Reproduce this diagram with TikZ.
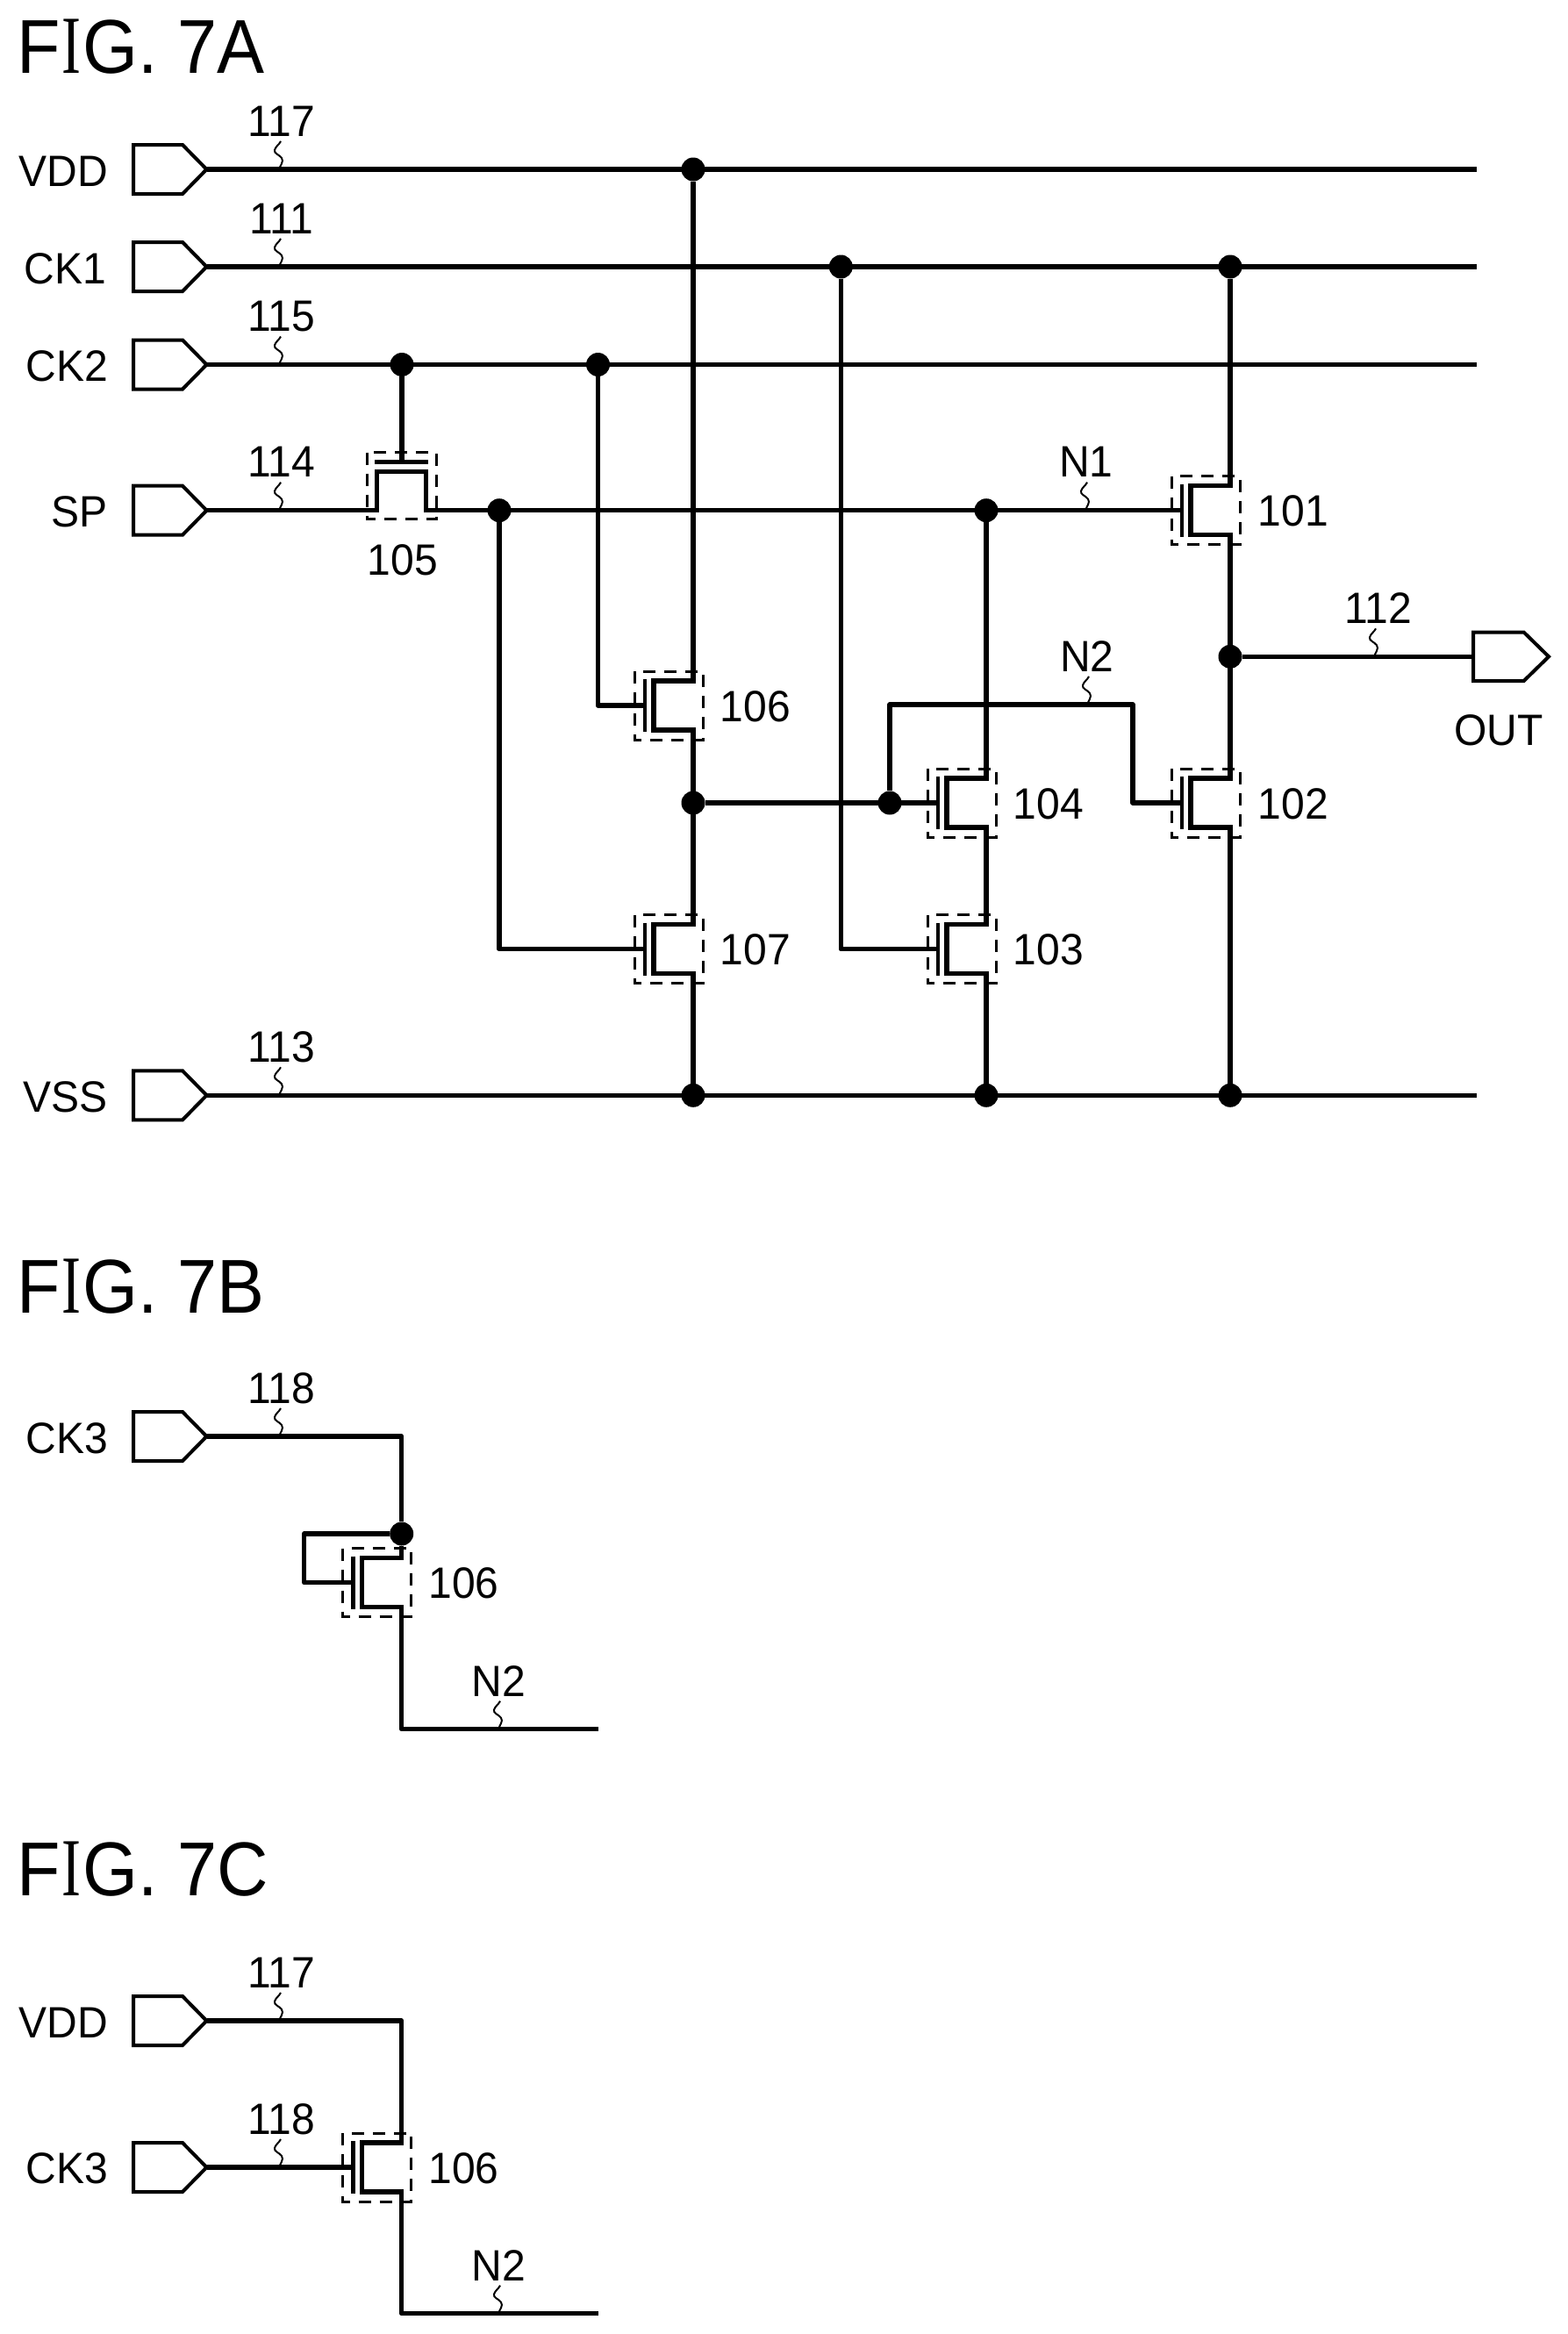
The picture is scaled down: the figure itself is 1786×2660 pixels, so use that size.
\documentclass[tikz,border=0pt]{standalone}
\usepackage{fontspec}
\setmainfont{Liberation Sans}
\newfontfamily\lblf[FakeStretch=0.96]{Liberation Sans}
\newfontfamily\figf[FakeStretch=0.93]{Liberation Sans}
\newfontfamily\figserif[FakeStretch=0.7]{Liberation Serif}
\newcommand{\figI}{\kern2pt{\fontsize{94}{90}\figserif I}\kern2pt}
\tikzset{
  x=1pt,y=-1pt,
  wire/.style={line width=5.5pt,line join=round},
  dot/.style={circle,fill=black,draw=none,minimum size=27pt,inner sep=0pt},
  lbl/.style={inner sep=0pt,font=\lblf\fontsize{50}{54}\selectfont},
  pinlbl/.style={inner sep=0pt,anchor=east,font=\lblf\fontsize{50}{54}\selectfont},
  figlbl/.style={inner sep=0pt,anchor=west,font=\figf\fontsize{87}{90}\selectfont},
  boxdash/.style={line width=3pt,dash pattern=on 14pt off 10pt},
  inpin/.pic={
    \draw[line width=4pt,line join=miter] (0,-28) -- (56,-28) -- (83.5,0) -- (56,28) -- (0,28) -- cycle;
    \coordinate (-tip) at (83.5,0);
  },
  outpin/.pic={
    \draw[line width=4pt,line join=miter] (0,-27.7) -- (57.7,-27.7) -- (86,0) -- (57.7,27.7) -- (0,27.7) -- cycle;
    \coordinate (-in) at (0,0);
  },
  squig/.pic={
    \draw[line width=2pt] (0,0) .. controls (1,-4) and (6,-9) .. (3,-13) .. controls (0,-17) and (-6,-18) .. (-5,-22) .. controls (-4,-26) and (0,-28) .. (2,-32);
  },
  nmos/.pic={
    \draw[boxdash] (-67,-39) rectangle (11,39);
    \draw[line width=4.5pt] (-55,-30) -- (-55,30);
    \draw[wire,line join=miter] (2.75,-28) -- (-45,-28) -- (-45,28) -- (2.75,28);
    \coordinate (-g) at (-55,0);
    \coordinate (-d) at (0,-28);
    \coordinate (-s) at (0,28);
  },
  topgate/.pic={
    \draw[boxdash] (-40,-66) rectangle (39,10);
    \draw[line width=5pt] (-31,-55.7) -- (30,-55.7);
    \draw[wire,line join=miter] (-44,0) -- (-28.7,0) -- (-28.7,-44) -- (27.7,-44) -- (27.7,0) -- (44,0);
    \coordinate (-g) at (0,-55.7);
    \coordinate (-l) at (-28.7,0);
    \coordinate (-r) at (27.7,0);
  },
}
\begin{document}
\begin{tikzpicture}
\useasboundingbox (0,0) rectangle (1786,2660);
% ---- FIG 7A
\node[figlbl] (figa) at (19,53) {F\figI G. 7A};
\pic (vdd) at (152,193) {inpin};
\pic (ckone) at (152,304) {inpin};
\pic (cktwo) at (152,415.5) {inpin};
\pic (sp) at (152,581.7) {inpin};
\pic (vss) at (152,1248.3) {inpin};
\pic (out) at (1679,748.3) {outpin};
\node[pinlbl] (lvdd) at (123,195) {VDD};
\node[pinlbl] (lckone) at (121,306) {CK1};
\node[pinlbl] (lcktwo) at (123,417.5) {CK2};
\node[pinlbl] (lsp) at (123,583.7) {SP};
\node[pinlbl] (lvss) at (123,1250.3) {VSS};
\node[lbl] (lout) at (1708,832.5) {OUT};
\coordinate (evdd) at (1683,193);
\coordinate (eckone) at (1683,304);
\coordinate (ecktwo) at (1683,415.5);
\coordinate (evss) at (1683,1248.3);
\pic (t101) at (1402,581.7) {nmos};
\pic (t102) at (1402,915) {nmos};
\pic (t103) at (1124,1081.7) {nmos};
\pic (t104) at (1124,915) {nmos};
\pic (t105) at (458,581.7) {topgate};
\pic (t106) at (790,804) {nmos};
\pic (t107) at (790,1081.7) {nmos};
\node[lbl] (l101) at (1474,582.7) {101};
\node[lbl] (l102) at (1474,916) {102};
\node[lbl] (l103) at (1195,1082.7) {103};
\node[lbl] (l104) at (1195,916) {104};
\node[lbl] (l105) at (458.7,638) {105};
\node[lbl] (l106) at (861,805) {106};
\node[lbl] (l107) at (861,1082.7) {107};
\node[dot] (dvdd) at (790,193) {};
\node[dot] (dckb) at (958.3,304) {};
\node[dot] (dcka) at (1402,304) {};
\node[dot] (dckc) at (458,415.5) {};
\node[dot] (dckd) at (681.5,415.5) {};
\node[dot] (dspa) at (569,581.7) {};
\node[dot] (dspb) at (1124,581.7) {};
\node[dot] (dout) at (1402,748.3) {};
\node[dot] (dmid) at (790,915) {};
\node[dot] (dnb) at (1014,915) {};
\node[dot] (dssa) at (790,1248.3) {};
\node[dot] (dssb) at (1124,1248.3) {};
\node[dot] (dssc) at (1402,1248.3) {};
\draw[wire] (vdd-tip) -- (evdd);
\draw[wire] (ckone-tip) -- (eckone);
\draw[wire] (cktwo-tip) -- (ecktwo);
\draw[wire] (vss-tip) -- (evss);
\draw[wire] (sp-tip) -- (t105-l);
\draw[wire] (dckc) -- (t105-g);
\draw[wire] (t105-r) -- (t101-g);
\draw[wire] (dspa) |- (t107-g);
\draw[wire] (dckd) |- (t106-g);
\draw[wire] (dvdd) -- (t106-d);
\draw[wire] (t106-s) -- (t107-d);
\draw[wire] (t107-s) -- (dssa);
\draw[wire] (dmid) -- (t104-g);
\draw[wire] (dnb) -- (1014,803) coordinate (nbtop) -- (1291,803) coordinate (nbright) -- (1291,915) coordinate (nbdown) -- (t102-g);
\draw[wire] (dspb) -- (t104-d);
\draw[wire] (t104-s) -- (t103-d);
\draw[wire] (t103-s) -- (dssb);
\draw[wire] (dckb) |- (t103-g);
\draw[wire] (dcka) -- (t101-d);
\draw[wire] (t101-s) -- (t102-d);
\draw[wire] (t102-s) -- (dssc);
\draw[wire] (dout) -- (out-in);
\pic at (318,193) {squig};
\pic at (318,304) {squig};
\pic at (318,415.5) {squig};
\pic at (318,581.7) {squig};
\pic at (318,1248.3) {squig};
\pic at (1237,581.7) {squig};
\pic at (1239,803) {squig};
\pic at (1566,748.3) {squig};
\node[lbl] (n117) at (321,138) {117};
\node[lbl] (n111) at (321,249) {111};
\node[lbl] (n115) at (321,360.5) {115};
\node[lbl] (n114) at (321,526.7) {114};
\node[lbl] (n113) at (321,1193.3) {113};
\node[lbl] (nNa) at (1238,526.7) {N1};
\node[lbl] (nNb) at (1239,748) {N2};
\node[lbl] (n112) at (1571,693.3) {112};
% ---- FIG 7B
\node[figlbl] (figb) at (19,1466) {F\figI G. 7B};
\pic (ckthree) at (152,1637) {inpin};
\node[pinlbl] (lckthree) at (123,1639) {CK3};
\pic (tb) at (457.7,1803.5) {nmos};
\node[lbl] (lb) at (528.5,1804.5) {106};
\node[dot] (db) at (457.7,1748) {};
\coordinate (bnend) at (682,1970.7);
\draw[wire] (ckthree-tip) -| (db);
\draw[wire] (db) -- (tb-d);
\draw[wire] (db) -- (346.7,1748) coordinate (bloop) |- (tb-g);
\draw[wire] (tb-s) |- (bnend);
\pic at (318,1637) {squig};
\pic at (568,1970.7) {squig};
\node[lbl] (n118b) at (321,1582) {118};
\node[lbl] (nNbb) at (568.5,1915.7) {N2};
% ---- FIG 7C
\node[figlbl] (figc) at (19,2130) {F\figI G. 7C};
\pic (vddc) at (152,2303) {inpin};
\pic (ckthreec) at (152,2470) {inpin};
\node[pinlbl] (lvddc) at (123,2305) {VDD};
\node[pinlbl] (lckthreec) at (123,2471.5) {CK3};
\pic (tc) at (457.7,2470) {nmos};
\node[lbl] (lc) at (528.5,2471) {106};
\coordinate (cnend) at (682,2636.7);
\draw[wire] (vddc-tip) -| (tc-d);
\draw[wire] (ckthreec-tip) -- (tc-g);
\draw[wire] (tc-s) |- (cnend);
\pic at (318,2303) {squig};
\pic at (318,2470) {squig};
\pic at (568,2636.7) {squig};
\node[lbl] (n117c) at (321,2248) {117};
\node[lbl] (n118c) at (321,2415) {118};
\node[lbl] (nNbc) at (568.5,2581.7) {N2};
\end{tikzpicture}
\end{document}
